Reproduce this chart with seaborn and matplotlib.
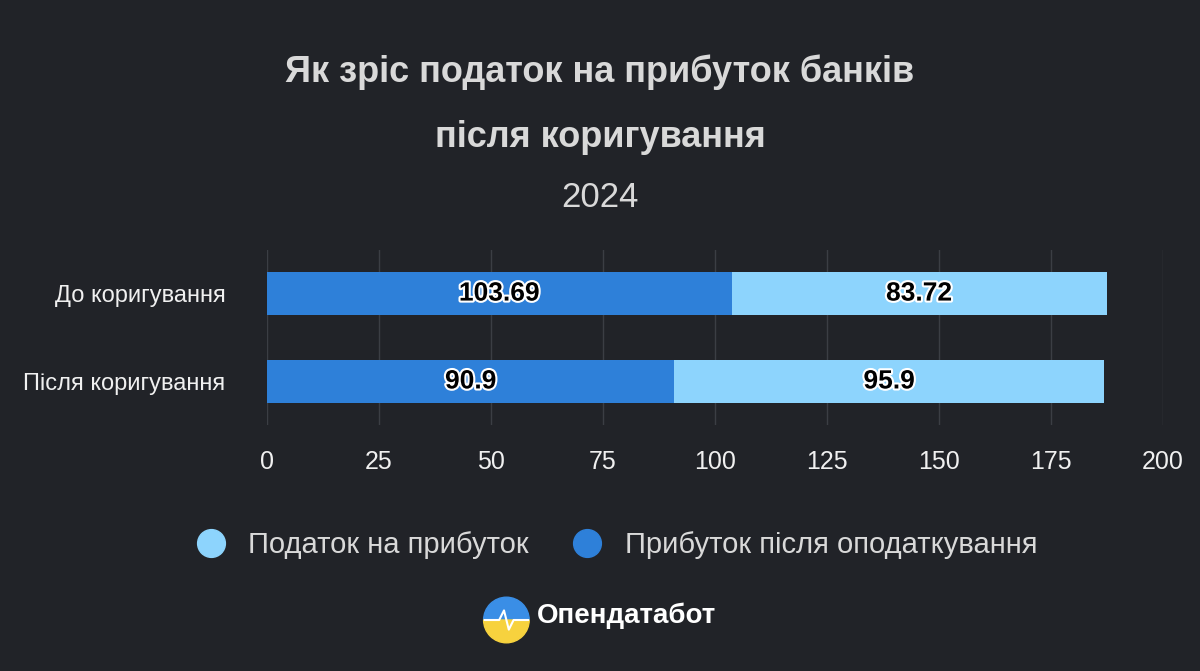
import matplotlib
matplotlib.use("Agg")
import matplotlib.pyplot as plt
import matplotlib.patheffects as pe
from matplotlib.lines import Line2D
from matplotlib.patches import Wedge
import seaborn as sns
import pandas as pd

categories = ["До коригування", "Після коригування"]
profit_after_tax = [103.69, 90.9]
profit_tax = [83.72, 95.9]
x_ticks = [0, 25, 50, 75, 100, 125, 150, 175, 200]

BG = "#212328"
DARK = "#2e80d9"
LIGHT = "#8dd4fd"
TXT = "#f0f0f0"

plt.rcParams["font.family"] = "Liberation Sans"
fig = plt.figure(figsize=(12, 6.71), dpi=100, facecolor=BG)
ax = fig.add_axes([0.2225, 0.366, 0.7467, 0.262], facecolor=BG)

df = pd.DataFrame({
    "cat": categories,
    "total": [a + b for a, b in zip(profit_after_tax, profit_tax)],
    "profit": profit_after_tax,
})
sns.barplot(data=df, y="cat", x="total", color=LIGHT, orient="h", width=0.48,
            saturation=1, ax=ax, zorder=2)
sns.barplot(data=df, y="cat", x="profit", color=DARK, orient="h", width=0.48,
            saturation=1, ax=ax, zorder=3)

stroke = [pe.withStroke(linewidth=3, foreground="white")]
for i, (p, t) in enumerate(zip(profit_after_tax, profit_tax)):
    ax.text(p / 2, i, f"{p:g}", ha="center", va="center", fontsize=19,
            fontweight="bold", color="black", path_effects=stroke, zorder=5)
    ax.text(p + t / 2, i, f"{t:g}", ha="center", va="center", fontsize=19,
            fontweight="bold", color="black", path_effects=stroke, zorder=5)

ax.set_xlim(0, 200)
ax.set_ylim(1.5, -0.5)
ax.set_xticks(x_ticks)
ax.grid(axis="x", color="#3b3e44", linewidth=1, zorder=0)
ax.set_axisbelow(True)
for s in ax.spines.values():
    s.set_visible(False)
ax.tick_params(length=0, colors=TXT, labelsize=17)
ax.tick_params(axis="x", pad=18, labelsize=18)
ax.tick_params(axis="y", pad=30)
ax.set_xlabel("")
ax.set_ylabel("")

fig.text(0.5, 0.893, "Як зріс податок на прибуток банків", ha="center", va="center",
         fontsize=26, fontweight="bold", color="#d9d9d9")
fig.text(0.5, 0.795, "після коригування", ha="center", va="center",
         fontsize=26, fontweight="bold", color="#d9d9d9")
fig.text(0.5, 0.705, "2024", ha="center", va="center", fontsize=25, color="#d9d9d9")

handles = [Line2D([], [], marker="o", linestyle="", markersize=20, color=LIGHT),
           Line2D([], [], marker="o", linestyle="", markersize=20, color=DARK)]
fig.legend(handles, ["Податок на прибуток", "Прибуток після оподаткування"],
           loc="center", bbox_to_anchor=(0.508, 0.188), ncol=2, frameon=False,
           fontsize=21, labelcolor="#d9d9d9", handletextpad=0.3, columnspacing=1.0)

# logo
lax = fig.add_axes([0.402, 0.04, 0.04, 0.072], facecolor="none")
lax.set_xlim(-1, 1); lax.set_ylim(-1, 1); lax.set_aspect("equal"); lax.axis("off")
lax.add_patch(Wedge((0, 0), 0.95, 0, 180, color="#3a8ee6"))
lax.add_patch(Wedge((0, 0), 0.95, 180, 360, color="#f7d23e"))
lax.plot([-0.9, -0.3, -0.1, 0.1, 0.3, 0.9], [0, 0, 0.4, -0.4, 0, 0], color="white", lw=1.5)
fig.text(0.447, 0.082, "Опендатабот", ha="left", va="center", fontsize=20,
         fontweight="bold", color="white")

fig.savefig("out.png", dpi=100, facecolor=BG)
